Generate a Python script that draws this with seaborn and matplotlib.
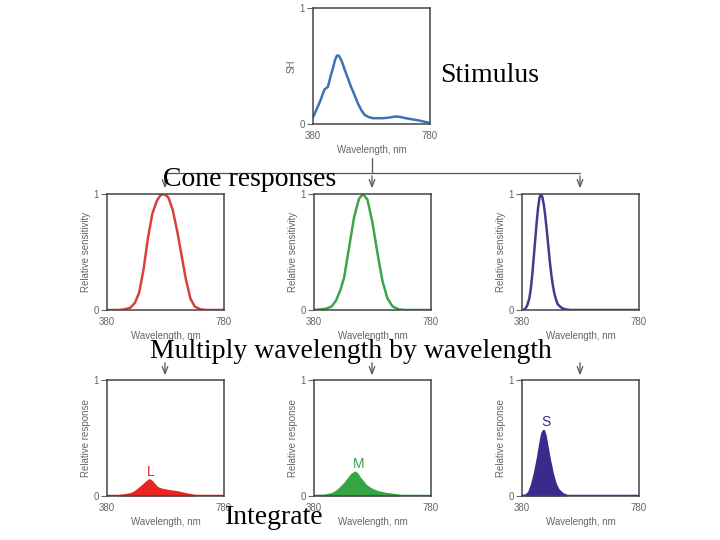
import numpy as np
import pandas as pd
import seaborn as sns
import matplotlib.pyplot as plt

# stimulus spectrum
stim_nm = [380, 386, 391, 400, 408, 415, 420, 426, 431, 440, 448, 455, 462, 467, 471, 480, 488, 500, 510, 522, 533, 545, 556, 570, 584, 600, 618, 640, 663, 680, 697, 720, 743, 760, 780]
stim_val = [0.06, 0.09, 0.12, 0.17, 0.22, 0.27, 0.30, 0.31, 0.32, 0.41, 0.48, 0.55, 0.59, 0.59, 0.58, 0.53, 0.47, 0.39, 0.32, 0.25, 0.18, 0.12, 0.08, 0.06, 0.05, 0.05, 0.05, 0.055, 0.065, 0.06, 0.05, 0.04, 0.03, 0.02, 0.01]

# cone sensitivities
l_nm = [380, 420, 440, 460, 475, 490, 505, 520, 535, 550, 563, 576, 590, 605, 620, 635, 650, 665, 680, 700, 720, 780]
l_val = [0, 0, 0.005, 0.02, 0.06, 0.15, 0.35, 0.62, 0.83, 0.94, 0.99, 1.0, 0.97, 0.86, 0.68, 0.47, 0.26, 0.10, 0.03, 0.005, 0, 0]
m_nm = [380, 420, 440, 455, 470, 483, 500, 517, 534, 548, 563, 580, 597, 614, 631, 649, 670, 690, 780]
m_val = [0, 0.01, 0.03, 0.08, 0.17, 0.28, 0.54, 0.80, 0.96, 1.0, 0.95, 0.75, 0.49, 0.25, 0.10, 0.03, 0.005, 0, 0]
s_nm = [380, 390, 398, 405, 410, 415, 420, 425, 430, 435, 440, 445, 450, 455, 460, 465, 470, 475, 480, 485, 490, 495, 502, 510, 520, 530, 545, 780]
s_val = [0, 0.005, 0.04, 0.10, 0.18, 0.30, 0.45, 0.60, 0.75, 0.88, 0.97, 1.0, 0.97, 0.90, 0.80, 0.68, 0.55, 0.42, 0.31, 0.22, 0.15, 0.10, 0.05, 0.03, 0.012, 0.005, 0, 0]

# cone responses (stimulus x sensitivity)
lr_nm = [380, 417, 440, 463, 475, 486, 498, 509, 518, 526, 532, 538, 546, 555, 570, 590, 607, 624, 640, 659, 682, 780]
lr_val = [0, 0, 0.005, 0.015, 0.03, 0.05, 0.075, 0.10, 0.12, 0.135, 0.125, 0.11, 0.085, 0.065, 0.052, 0.043, 0.036, 0.03, 0.02, 0.01, 0, 0]
mr_nm = [380, 420, 443, 460, 477, 490, 500, 510, 518, 523, 530, 538, 546, 557, 569, 585, 603, 625, 649, 680, 780]
mr_val = [0, 0.003, 0.015, 0.04, 0.08, 0.115, 0.15, 0.18, 0.195, 0.2, 0.18, 0.15, 0.125, 0.09, 0.067, 0.045, 0.03, 0.018, 0.01, 0, 0]
sr_nm = [380, 395, 405, 415, 425, 435, 445, 450, 455, 460, 465, 475, 485, 495, 505, 520, 535, 780]
sr_val = [0, 0.005, 0.03, 0.10, 0.20, 0.33, 0.48, 0.54, 0.56, 0.52, 0.45, 0.31, 0.19, 0.10, 0.05, 0.015, 0, 0]

sns.set_style("white")
plt.rcParams['font.family'] = ['Liberation Sans', 'DejaVu Sans']

fig = plt.figure(figsize=(7.2, 5.4), dpi=100)
W, H = 720, 540
grey = "#666666"

def panel(left, top, nm, val, color, ylabel, fill=False, letter=None, letter_xy=None):
    ax = fig.add_axes([left / W, 1 - (top + 116) / H, 117 / W, 116 / H])
    df = pd.DataFrame({"nm": nm, "val": val})
    sns.lineplot(data=df, x="nm", y="val", color=color, lw=1.8, ax=ax)
    if fill:
        ax.fill_between(df["nm"], df["val"], color=color, lw=0)
    ax.set_xlim(380, 780)
    ax.set_ylim(0, 1)
    ax.set_xticks([380, 780])
    ax.set_yticks([0, 1])
    ax.tick_params(axis="y", length=4, width=0.8, color=grey, labelsize=7, labelcolor=grey, pad=2, left=True)
    ax.tick_params(axis="x", length=0, labelsize=7, labelcolor=grey, pad=5)
    ax.set_xlabel("Wavelength, nm", fontsize=7, color=grey, labelpad=3)
    ax.set_ylabel(ylabel, fontsize=7, color=grey, labelpad=2)
    for s in ax.spines.values():
        s.set_color("#444444")
        s.set_linewidth(1.1)
    if letter:
        ax.text(letter_xy[0], letter_xy[1], letter, color=color, fontsize=10, ha="center", va="center")
    return ax

panel(313, 8, stim_nm, stim_val, "#3f72b5", "SH")

panel(107, 194, l_nm, l_val, "#d9413b", "Relative sensitivity")
panel(314, 194, m_nm, m_val, "#3da44c", "Relative sensitivity")
panel(522, 194, s_nm, s_val, "#463a8f", "Relative sensitivity")

panel(107, 380, lr_nm, lr_val, "#e8261f", "Relative response", fill=True, letter="L", letter_xy=(529, 0.21))
panel(314, 380, mr_nm, mr_val, "#35a443", "Relative response", fill=True, letter="M", letter_xy=(532, 0.28))
panel(522, 380, sr_nm, sr_val, "#3a2a8c", "Relative response", fill=True, letter="S", letter_xy=(462, 0.64))

# overlay for connectors and captions
ov = fig.add_axes([0, 0, 1, 1])
ov.set_xlim(0, W)
ov.set_ylim(H, 0)
ov.axis("off")
ov.patch.set_alpha(0)

lc = "#555555"
ov.plot([372, 372], [158, 173], color=lc, lw=0.9)
ov.plot([165, 580], [173, 173], color=lc, lw=0.9)
for x in [165, 372, 580]:
    ov.annotate("", xy=(x, 191), xytext=(x, 173),
                arrowprops=dict(arrowstyle="->,head_length=0.5,head_width=0.2", color=lc, lw=0.9))
    ov.annotate("", xy=(x, 378), xytext=(x, 360),
                arrowprops=dict(arrowstyle="->,head_length=0.5,head_width=0.2", color=lc, lw=0.9))

serif = dict(family="Liberation Serif", fontsize=20, color="black", va="center", ha="left")
ov.text(440, 75, "Stimulus", **serif)
ov.text(163, 180, "Cone responses", **serif)
ov.text(150, 352, "Multiply wavelength by wavelength", **serif)
ov.text(225, 517, "Integrate", **serif)

plt.savefig("out.png", dpi=100)
